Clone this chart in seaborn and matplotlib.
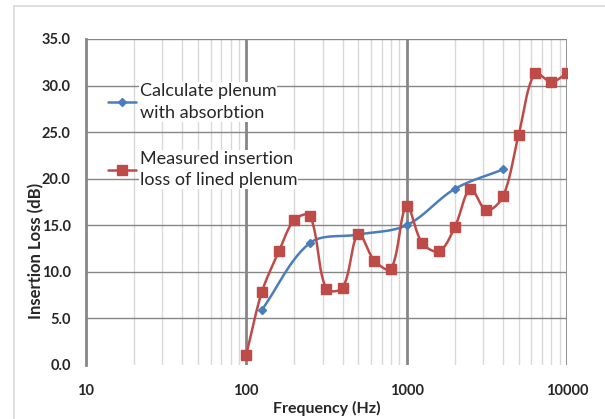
import numpy as np
import pandas as pd
import matplotlib
matplotlib.use("Agg")
import matplotlib.pyplot as plt
from matplotlib.lines import Line2D
from matplotlib.patches import Rectangle
import seaborn as sns

# third-octave bands for the measurement, octave bands for the calculation
measured_freq = [100, 125, 160, 200, 250, 315, 400, 500, 630, 800, 1000,
                 1250, 1600, 2000, 2500, 3150, 4000, 5000, 6300, 8000, 10000]
measured_il = [1.1, 7.8, 12.2, 15.6, 16.0, 8.2, 8.3, 14.1, 11.2, 10.3, 17.1,
               13.1, 12.2, 14.8, 18.9, 16.6, 18.1, 24.7, 31.3, 30.4, 31.3]
calc_freq = [125, 250, 500, 1000, 2000, 4000]
calc_il = [5.9, 13.1, 14.0, 15.0, 18.9, 21.0]

label_calc = "Calculate plenum\nwith absorbtion"
label_meas = "Measured insertion\nloss of lined plenum"
y_ticks = [0, 5, 10, 15, 20, 25, 30, 35]
x_ticks = [10, 100, 1000, 10000]

blue = "#4a7ebb"
red = "#be4b48"
grid_dark = "#868686"
grid_light = "#d9d9d9"


def smooth(xs, ys, n=24, sx=160.0, sy=9.3):
    # Excel style smoothed line: Bezier segments, tangents weighted by
    # neighbouring segment lengths (worked out in screen units, log x)
    px = np.log10(np.asarray(xs, float)) * sx
    py = np.asarray(ys, float) * sy
    m = len(px)
    cin = np.zeros((m, 2))
    cout = np.zeros((m, 2))
    pts = np.column_stack([px, py])
    for i in range(m):
        prev = pts[max(i - 1, 0)]
        nxt = pts[min(i + 1, m - 1)]
        tan = nxt - prev
        d0 = np.hypot(*(pts[i] - prev))
        d1 = np.hypot(*(nxt - pts[i]))
        tot = d0 + d1 if d0 + d1 > 0 else 1.0
        cin[i] = pts[i] - tan * d0 / tot / 3
        cout[i] = pts[i] + tan * d1 / tot / 3
    t = np.linspace(0, 1, n, endpoint=False)[:, None]
    seg = []
    for i in range(m - 1):
        p1, c1, c2, p2 = pts[i], cout[i], cin[i + 1], pts[i + 1]
        seg.append((1 - t) ** 3 * p1 + 3 * (1 - t) ** 2 * t * c1
                   + 3 * (1 - t) * t ** 2 * c2 + t ** 3 * p2)
    seg.append(pts[-1:])
    curve = np.vstack(seg)
    return pd.DataFrame({"f": 10 ** (curve[:, 0] / sx), "il": curve[:, 1] / sy})


sns.set_style("white")
plt.rcParams["font.family"] = ["Lato", "DejaVu Sans"]

fig = plt.figure(figsize=(6.05, 4.19), dpi=100)
ax = fig.add_axes([0.142, 0.129, 0.795, 0.778])

# outer chart border
fig.patches.append(Rectangle((14 / 605, -0.1), 1.2, 1.1 - 6 / 419,
                             transform=fig.transFigure, fill=False,
                             edgecolor=grid_light, linewidth=1.2, zorder=0))

ax.set_xscale("log")
ax.set_xlim(10, 10000)
ax.set_ylim(0, 35)

# grid
for dec in [10, 100, 1000]:
    for k in range(2, 10):
        ax.axvline(dec * k, color=grid_light, linewidth=1.0, zorder=1)
for dec in [100, 1000, 10000]:
    ax.axvline(dec, color=grid_dark, linewidth=2.0, zorder=1)
for yv in y_ticks[1:]:
    ax.axhline(yv, color=grid_dark, linewidth=1.0, zorder=1)

sm_calc = smooth(calc_freq, calc_il)
sm_meas = smooth(measured_freq, measured_il)
sns.lineplot(data=sm_calc, x="f", y="il", sort=False, color=blue,
             linewidth=1.8, ax=ax, zorder=3)
sns.lineplot(data=sm_meas, x="f", y="il", sort=False, color=red,
             linewidth=1.8, ax=ax, zorder=4)
ax.plot(calc_freq, calc_il, linestyle="none", marker="D", markersize=4.5,
        color=blue, zorder=5)
ax.plot(measured_freq, measured_il, linestyle="none", marker="s",
        markersize=7, color=red, zorder=6)

for s in ["top", "right", "bottom"]:
    ax.spines[s].set_visible(False)
ax.spines["left"].set_color(grid_dark)
ax.spines["left"].set_linewidth(2.0)

ax.set_yticks(y_ticks)
ax.set_yticklabels([f"{v:.1f}" for v in y_ticks])
ax.set_xticks(x_ticks)
ax.set_xticklabels([str(v) for v in x_ticks])
ax.xaxis.set_minor_locator(matplotlib.ticker.NullLocator())
ax.tick_params(axis="both", which="major", direction="out", length=5,
               width=1, color=grid_dark, labelsize=10.5)
ax.tick_params(axis="y", pad=6)
ax.tick_params(axis="x", pad=10, length=4)
for lab in ax.get_xticklabels() + ax.get_yticklabels():
    lab.set_fontweight("bold")

ax.set_xlabel("Frequency (Hz)", fontsize=11.5, fontweight="bold")
ax.set_ylabel("Insertion Loss (dB)", fontsize=12, fontweight="bold")
ax.xaxis.set_label_coords(0.5, -0.11)
ax.yaxis.set_label_coords(-0.087, 0.35)

handles = [
    Line2D([], [], color=blue, linewidth=1.8, marker="D", markersize=4.5),
    Line2D([], [], color=red, linewidth=1.8, marker="s", markersize=7),
]
leg = ax.legend(handles, [label_calc, label_meas], loc="upper left",
                bbox_to_anchor=(0.045, 0.865), frameon=False, fontsize=13,
                handlelength=1.6, handletextpad=0.2, labelspacing=1.65,
                borderpad=0.0, borderaxespad=0.0)
# white box behind each label only, gridlines still show between entries
for txt in leg.get_texts():
    txt.set_linespacing(1.45)
    txt.set_bbox(dict(facecolor="white", edgecolor="none", pad=0.5))
leg.set_zorder(7)

fig.savefig("out.png", dpi=100)
